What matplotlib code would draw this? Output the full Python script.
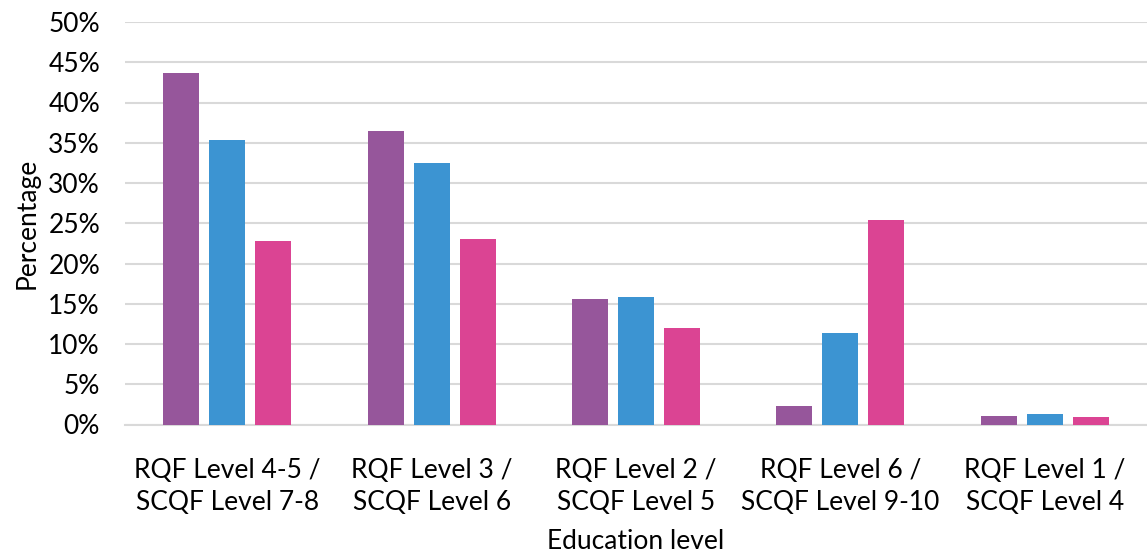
import matplotlib
matplotlib.use("Agg")
import matplotlib.pyplot as plt
import numpy as np

categories = ["RQF Level 4-5 /\nSCQF Level 7-8", "RQF Level 3 /\nSCQF Level 6",
              "RQF Level 2 /\nSCQF Level 5", "RQF Level 6 /\nSCQF Level 9-10",
              "RQF Level 1 /\nSCQF Level 4"]
series_a = [43.7, 36.5, 15.6, 2.3, 1.1]
series_b = [35.4, 32.5, 15.8, 11.4, 1.3]
series_c = [22.8, 23.1, 12.0, 25.4, 0.9]
yticks = [0, 5, 10, 15, 20, 25, 30, 35, 40, 45, 50]
colors = ["#96569B", "#3C94D2", "#DB4493"]

plt.rcParams['font.family'] = ['Lato', 'DejaVu Sans']
fig = plt.figure(figsize=(11.47, 5.58), dpi=100)
ax = fig.add_axes([125/1147, 1-424.5/558, 1-125/1147, (424.5-22)/558])

x = np.arange(len(categories))
w = 0.176
step = 0.225
for i, (vals, c) in enumerate(zip([series_a, series_b, series_c], colors)):
    ax.bar(x + (i-1)*step, vals, width=w, color=c, zorder=3)

ax.set_xlim(-0.5, len(categories)-0.5)
ax.set_ylim(0, 50)
ax.set_yticks(yticks)
ax.set_yticklabels([f"{t}%" for t in yticks], fontsize=19)
ax.set_xticks(x)
ax.set_xticklabels(categories, fontsize=19, linespacing=1.35)
ax.tick_params(axis='both', length=0, colors='#000000')
ax.tick_params(axis='x', pad=24)
ax.tick_params(axis='y', pad=18)
ax.grid(axis='y', color='#D9D9D9', linewidth=1.5, zorder=0)
for s in ['top', 'right', 'left']:
    ax.spines[s].set_visible(False)
ax.spines['bottom'].set_color('#D9D9D9')
ax.spines['bottom'].set_linewidth(1.5)
ax.set_xlabel("Education level", fontsize=19, labelpad=10)
ax.set_ylabel("Percentage", fontsize=19, labelpad=6)
fig.savefig("out.png", dpi=100)
